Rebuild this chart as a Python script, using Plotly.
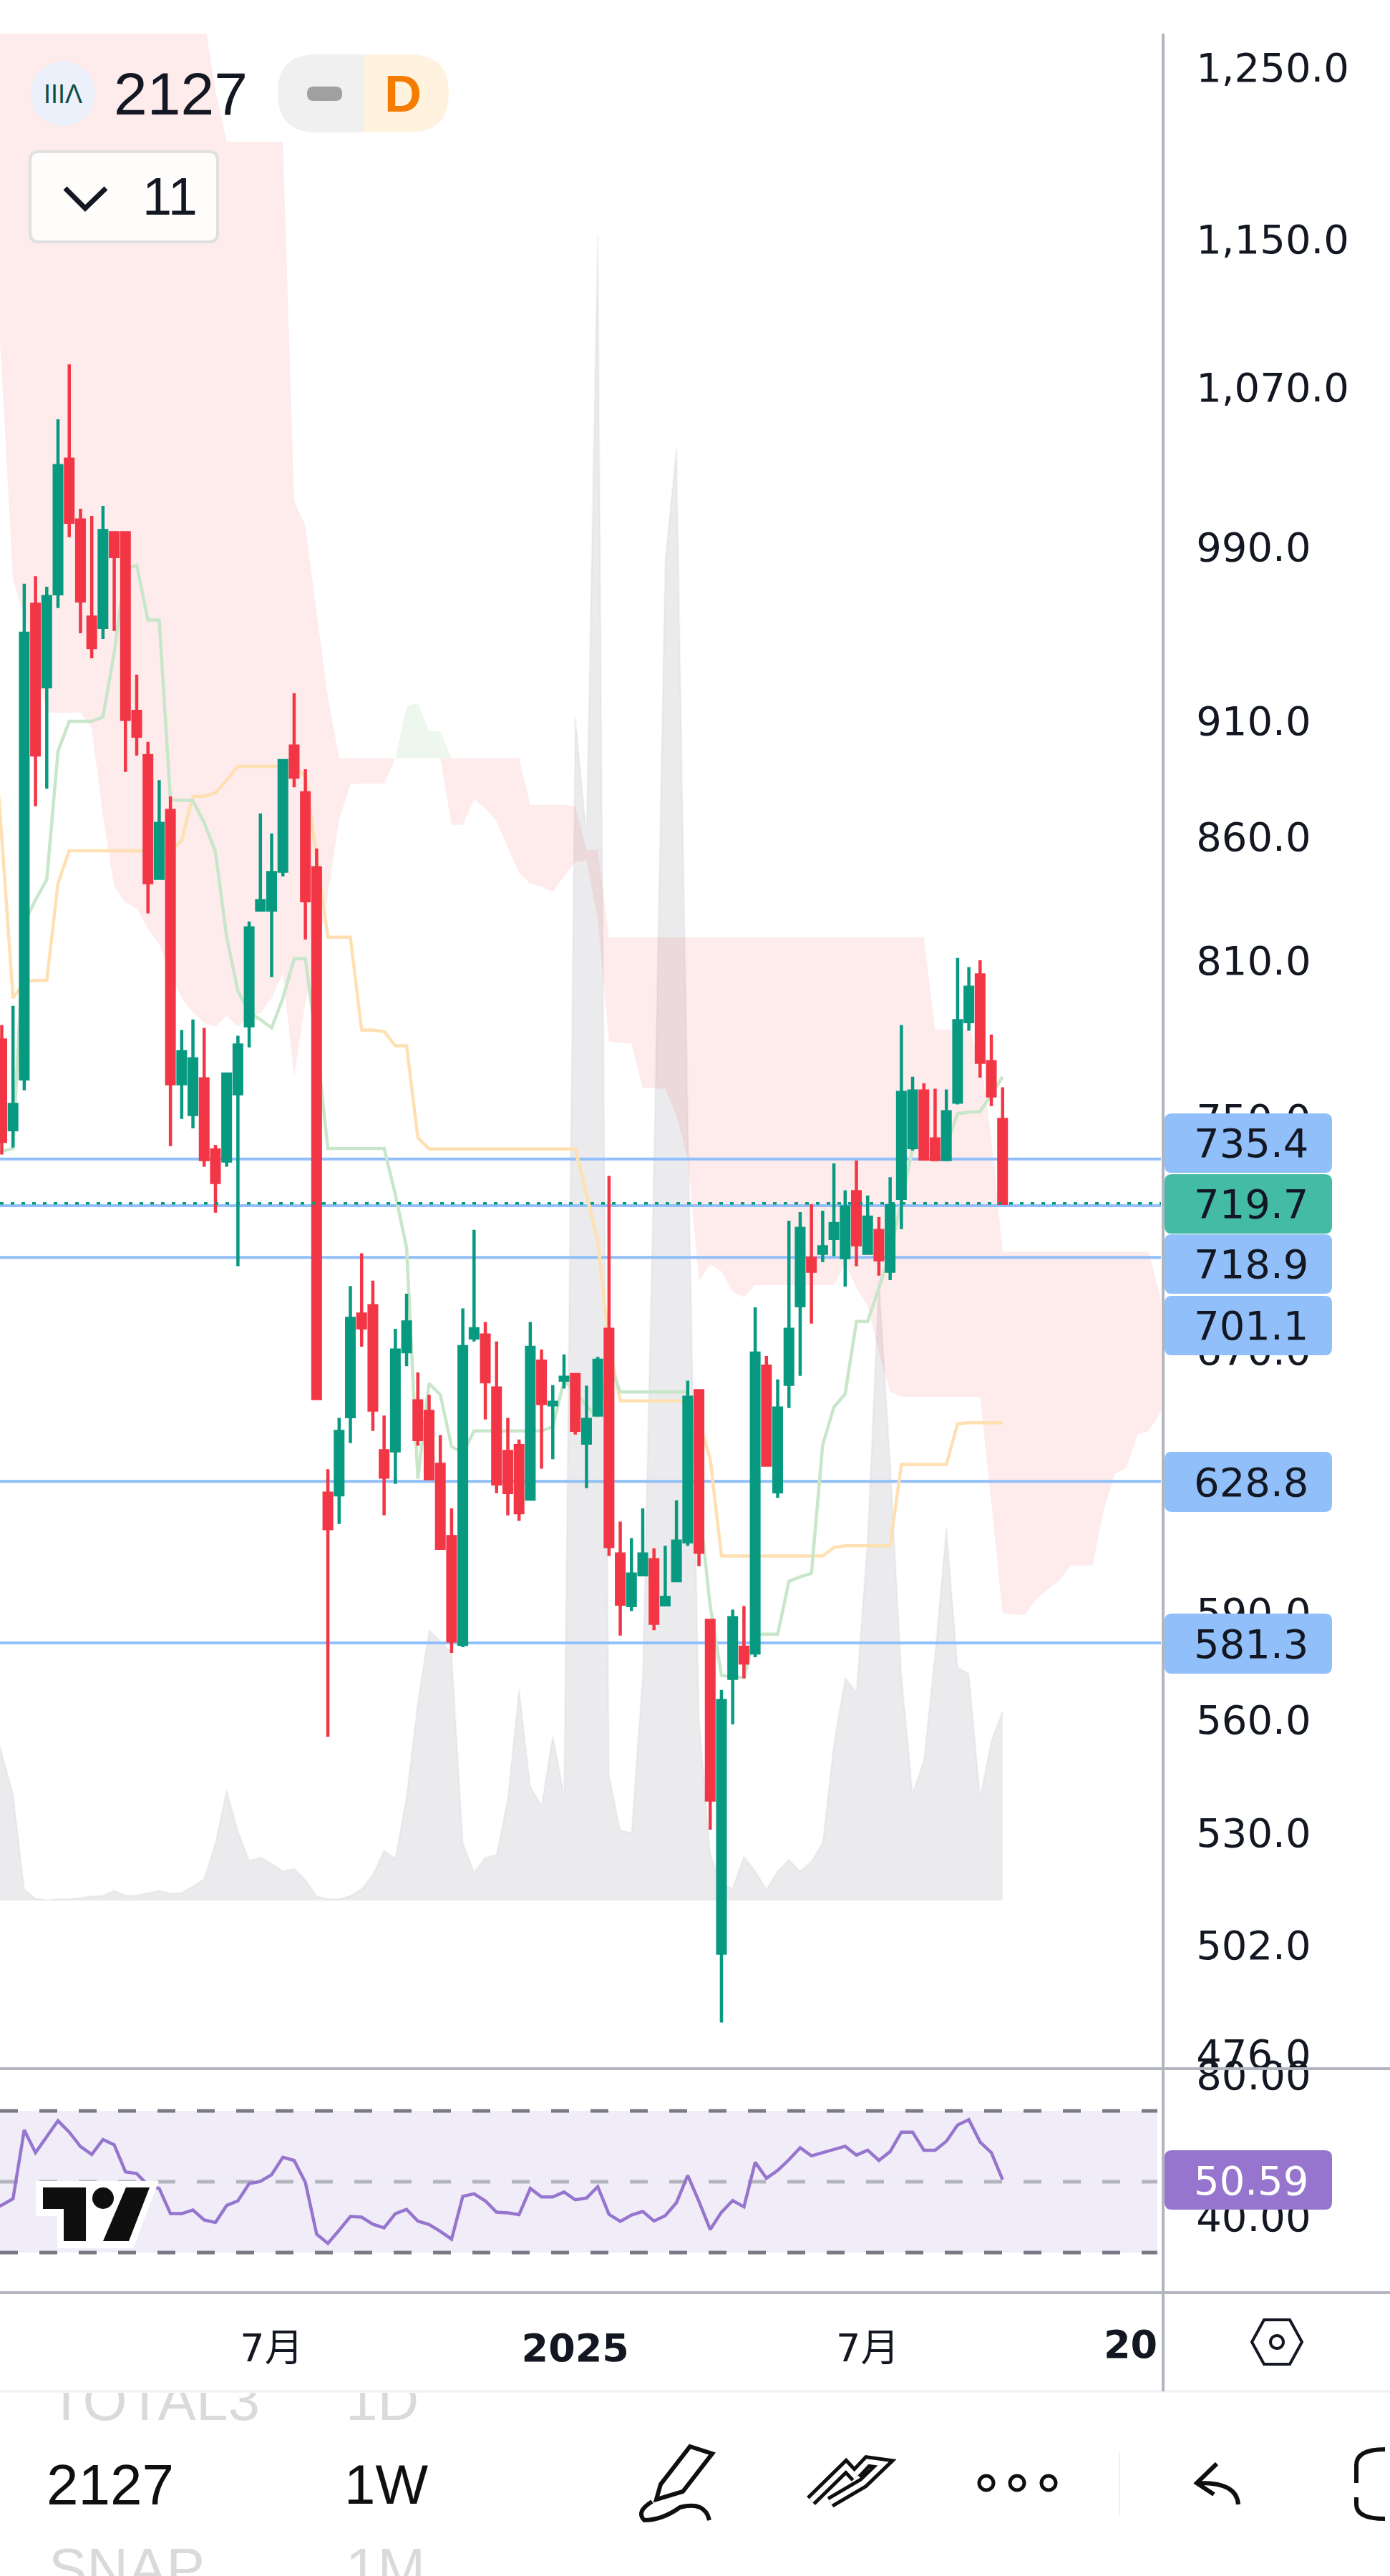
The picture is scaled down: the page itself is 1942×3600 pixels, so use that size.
import pandas as pd
import plotly.graph_objects as go

W = 1942
H = 3600

# weekly candles (first date only feeds the lines running off the left edge)
dates = pd.date_range("2024-01-08", periods=106, freq="7D")
opens = [
    779.2, 746.0, 764.6, 962.9, 925.1, 967.9, 1033.3, 1003.2, 956.9, 952.2,
    997.0, 997.0, 914.1, 894.7, 842.9, 871.1, 762.8, 751.5, 764.6, 738.7,
    734.7, 759.1, 784.6, 830.0, 830.0, 845.8, 898.8, 878.6, 847.2, 625.2,
    624.7, 648.9, 682.0, 684.8, 638.2, 638.2, 669.7, 653.9, 650.5, 634.0,
    612.1, 580.9, 674.2, 675.1, 658.0, 638.0, 639.8, 623.4, 666.6, 652.6,
    660.5, 662.3, 640.6, 649.4, 677.0, 607.0, 592.0, 600.9, 605.3, 592.2,
    599.2, 610.6, 657.1, 587.7, 500.0, 571.4, 580.1, 578.5, 665.0, 625.6,
    659.2, 684.8, 700.8, 702.5, 707.6, 701.0, 723.8, 702.5, 710.3, 696.4,
    721.5, 739.5, 760.1, 742.6, 735.2, 756.0, 786.2, 804.2, 771.0, 749.7,
]
highs = [
    784.9, 792.2, 972.6, 976.2, 971.2, 1053.5, 1082.0, 1008.7, 1005.2, 1010.1,
    997.0, 997.6, 930.6, 900.7, 884.1, 877.1, 783.0, 787.0, 783.8, 740.5,
    766.4, 780.8, 825.4, 869.9, 861.5, 892.5, 922.2, 888.8, 855.2, 632.5,
    648.5, 691.4, 702.5, 693.2, 649.2, 677.2, 688.8, 663.0, 655.8, 643.1,
    620.6, 683.9, 710.5, 679.4, 673.0, 648.5, 641.7, 679.4, 670.4, 658.9,
    668.8, 662.3, 658.7, 668.0, 729.4, 616.6, 611.7, 620.6, 608.7, 609.4,
    623.0, 660.3, 657.6, 587.7, 568.2, 590.8, 591.8, 684.3, 668.3, 660.7,
    713.7, 716.7, 719.5, 717.2, 733.9, 724.3, 734.9, 722.5, 714.9, 728.9,
    784.9, 765.4, 763.0, 761.0, 760.7, 810.9, 807.3, 810.0, 781.3, 761.5,
]
lows = [
    737.0, 739.5, 760.4, 872.9, 880.4, 961.2, 994.8, 949.5, 938.0, 946.8,
    950.5, 887.6, 894.7, 828.6, 842.3, 740.0, 749.9, 746.5, 732.7, 716.5,
    732.7, 698.1, 776.4, 830.0, 803.4, 843.7, 881.0, 818.2, 654.6, 555.4,
    615.9, 640.6, 671.3, 644.4, 618.5, 628.0, 665.0, 639.8, 629.6, 608.7,
    578.5, 580.1, 673.0, 648.0, 625.2, 618.5, 616.8, 623.0, 632.7, 635.6,
    657.8, 643.3, 626.7, 649.2, 606.4, 583.4, 590.4, 600.9, 584.9, 592.0,
    599.2, 609.4, 603.4, 530.9, 483.4, 558.8, 571.4, 577.3, 633.3, 623.8,
    651.6, 661.9, 678.9, 699.5, 701.5, 691.2, 698.1, 702.5, 694.9, 693.4,
    710.8, 738.5, 735.2, 734.7, 735.0, 755.2, 782.7, 765.1, 754.6, 719.2,
]
closes = [
    741.8, 755.2, 949.5, 895.0, 966.5, 1030.0, 1002.1, 964.5, 942.9, 998.0,
    985.5, 910.6, 903.2, 841.1, 865.7, 762.8, 774.8, 772.1, 735.2, 727.1,
    766.4, 777.3, 822.8, 833.8, 845.2, 892.5, 885.4, 833.8, 654.6, 614.5,
    644.2, 680.6, 677.5, 651.0, 630.1, 670.2, 679.4, 641.7, 629.6, 608.7,
    581.9, 671.3, 677.2, 660.0, 628.0, 625.4, 619.3, 671.1, 653.0, 653.4,
    661.4, 644.6, 648.0, 666.9, 609.2, 592.4, 601.1, 607.0, 586.9, 594.3,
    610.8, 655.0, 607.5, 538.6, 565.3, 588.5, 575.7, 669.2, 633.8, 651.6,
    677.0, 711.0, 696.4, 704.7, 712.7, 718.5, 705.4, 714.9, 700.3, 719.0,
    759.6, 760.1, 735.4, 735.2, 752.5, 786.5, 799.4, 770.8, 758.3, 719.7,
]

# volume, arbitrary units (100 = tallest spike)
volume = [
    11.4,
    8.85, 6.44, 0.69, 0.13, 0.04, 0.09, 0.09, 0.17, 0.26, 0.30,
    0.60, 0.30, 0.30, 0.47, 0.60, 0.43, 0.47, 0.86, 1.29, 3.48,
    6.62, 4.17, 2.41, 2.58, 2.23, 1.76, 1.93, 1.25, 0.26, 0.09,
    0.09, 0.30, 0.69, 1.55, 3.01, 2.53, 6.31, 11.9, 16.24, 15.59,
    14.91, 3.48, 1.68, 2.58, 2.75, 6.14, 12.71, 6.87, 5.71, 9.92,
    6.36, 71.05, 63.96, 100.0, 7.52, 4.21, 4.08, 13.57, 44.5, 80.41,
    87.2, 47.08, 11.0, 2.84, 0.9, 0.77, 2.66, 1.76, 0.69, 1.76,
    2.45, 1.76, 2.36, 3.48, 9.41, 13.36, 12.54, 21.74, 37.2, 26.33,
    13.57, 6.44, 8.42, 14.86, 22.42, 14.0, 13.62, 6.23, 9.58, 11.38,
]

# ichimoku
conversion = [
    738.0,
    738.2, 739.2, 824.8, 834.1, 842.3, 896.6, 909.7, 909.7, 909.7, 911.6,
    940.6, 979.6, 981.4, 955.6, 955.6, 875.6, 875.6, 875.3, 866.0, 853.9,
    819.1, 798.0, 789.7, 787.0, 783.8, 795.2, 810.6, 810.6, 777.5, 739.2,
    739.2, 739.2, 739.2, 739.2, 739.2, 722.8, 704.4, 629.6, 659.4, 655.8,
    639.5, 637.5, 644.4, 644.4, 644.4, 644.4, 644.4, 644.4, 644.4, 645.7,
    660.3, 656.9, 652.3, 648.7, 666.0, 656.7, 656.7, 656.7, 656.7, 656.7,
    656.7, 656.7, 622.3, 591.8, 572.2, 571.8, 571.6, 583.8, 583.8, 583.8,
    599.0, 600.3, 601.3, 640.0, 651.9, 656.1, 679.6, 679.6, 690.7, 703.0,
    720.3, 739.2, 740.0, 738.0, 740.5, 751.8, 752.3, 752.6, 758.8, 765.4,
]
base_line = [
    925.0,
    859.9, 795.2, 801.5, 802.1, 802.1, 840.8, 854.2, 854.2, 854.2, 854.2,
    854.2, 854.2, 854.2, 854.2, 854.2, 854.2, 858.5, 877.1, 877.1, 878.6,
    884.1, 890.0, 890.0, 890.0, 890.0, 890.0, 890.0, 885.6, 851.0, 819.1,
    819.1, 819.1, 783.0, 783.0, 782.4, 777.0, 777.0, 743.1, 739.0, 739.0,
    739.0, 739.0, 739.0, 739.0, 739.0, 739.0, 739.0, 739.0, 739.0, 739.0,
    739.0, 739.0, 722.8, 706.6, 671.8, 653.9, 653.9, 653.9, 653.9, 653.9,
    653.9, 653.9, 647.8, 635.6, 606.4, 606.4, 606.4, 606.4, 606.4, 606.4,
    606.4, 606.4, 606.4, 606.4, 608.9, 609.4, 609.4, 609.4, 609.4, 609.4,
    634.0, 634.0, 634.0, 634.0, 634.0, 646.6, 647.0, 647.0, 647.0, 647.0,
]
cloud_top = [
    1280.0,
    1280.0, 1280.0, 1280.0, 1280.0, 1280.0, 1280.0, 1280.0, 1280.0, 1280.0, 1280.0,
    1280.0, 1280.0, 1280.0, 1280.0, 1280.0, 1280.0, 1280.0, 1280.0, 1280.0, 1236.0,
    1205.6, 1205.6, 1205.6, 1205.6, 1205.6, 1205.6, 1012.5, 1000.4, 958.8, 920.6,
    893.5, 893.5, 893.5, 893.5, 893.5, 893.5, 893.5, 893.5, 893.5, 893.5,
    893.5, 893.5, 893.5, 893.5, 893.5, 893.5, 893.5, 873.5, 873.5, 873.5,
    873.5, 872.9, 854.6, 854.6, 819.1, 819.1, 819.1, 819.1, 819.1, 819.1,
    819.1, 819.1, 819.1, 819.1, 819.1, 819.1, 819.1, 819.1, 819.1, 819.1,
    819.1, 819.1, 819.1, 819.1, 819.1, 819.1, 819.1, 819.1, 819.1, 819.1,
    819.1, 819.1, 819.1, 783.2, 783.2, 783.2, 783.2, 772.1, 743.1, 703.0,
    703.0, 703.0, 703.0, 703.0, 703.0, 703.0, 703.0, 703.0, 703.0, 703.0,
    703.0, 703.0, 703.0, 688.3, 662.0,
]
cloud_bottom = [
    1180.0,
    1077.8, 974.6, 957.2, 934.8, 913.5, 913.5, 913.5, 913.5, 906.6, 869.0,
    839.4, 833.0, 830.7, 822.5, 816.3, 805.0, 795.2, 789.7, 785.7, 784.3,
    788.4, 784.3, 788.4, 789.5, 795.2, 805.0, 765.4, 793.8, 810.6, 836.5,
    867.2, 882.2, 882.5, 882.5, 882.5, 893.5, 893.5, 893.5, 893.5, 893.5,
    865.1, 865.1, 875.9, 872.0, 866.6, 855.5, 845.2, 840.8, 839.4, 837.3,
    843.7, 849.6, 850.4, 826.3, 778.6, 778.3, 777.8, 761.2, 761.2, 761.0,
    751.0, 735.4, 693.2, 698.6, 696.4, 689.5, 687.6, 691.7, 691.7, 691.7,
    691.7, 691.7, 691.7, 691.7, 691.7, 699.3, 690.7, 684.8, 669.5, 656.9,
    655.1, 655.1, 655.1, 655.1, 655.1, 655.1, 655.1, 655.1, 622.3, 589.7,
    589.3, 589.3, 593.8, 596.6, 599.0, 603.6, 603.6, 603.6, 620.2, 631.1,
    632.9, 643.3, 644.4, 650.0, 655.0,
]
# short green twist of the cloud
twist_top = [893.5, 916.4, 917.9, 905.3, 905.3, 893.5]
twist_base = [893.5, 893.5, 893.5, 893.5, 893.5, 893.5]

# rsi
rsi = [
    42.0,
    43.4, 45.2, 64.6, 58.2, 62.9, 67.2, 64.0, 59.9, 57.7, 61.9,
    60.4, 52.8, 52.3, 49.0, 48.1, 41.0, 41.0, 42.0, 39.2, 38.5,
    43.3, 44.6, 49.5, 50.1, 52.0, 56.9, 56.0, 49.8, 35.2, 32.6,
    36.3, 40.2, 40.0, 38.0, 37.0, 41.0, 42.2, 38.9, 37.9, 36.0,
    33.8, 45.9, 46.6, 44.6, 41.4, 41.2, 40.7, 48.1, 45.7, 45.7,
    47.1, 44.9, 45.4, 48.6, 40.8, 38.8, 40.6, 41.6, 38.9, 40.4,
    44.1, 51.8, 44.4, 36.5, 41.4, 44.7, 42.9, 55.5, 51.0, 53.2,
    56.2, 59.6, 57.3, 58.2, 59.2, 60.0, 57.5, 58.9, 56.0, 58.5,
    64.0, 64.0, 58.9, 58.9, 61.4, 66.0, 67.5, 61.2, 58.2, 50.59,
]

# levels and axis labels
levels = [735.4, 718.9, 701.1, 628.8, 581.3]
last_price = 719.7
price_ticks = [1250, 1150, 1070, 990, 910, 860, 810, 750, 670, 590, 560, 530, 502, 476]
price_labels = ["1,250.0", "1,150.0", "1,070.0", "990.0", "910.0", "860.0", "810.0",
                "750.0", "670.0", "590.0", "560.0", "530.0", "502.0", "476.0"]
rsi_ticks = [80, 40]
rsi_labels = ["80.00", "40.00"]
rsi_bands = [70, 50, 30]
time_ticks = ["2024-07-01", "2025-01-06", "2025-07-07"]
time_labels = ["7月", "<b>2025</b>", "7月"]

X_RANGE = ["2024-01-13 21:36", "2026-01-05 14:00"]
BAND_END = "2026-01-03 08:00"
PRICE_RANGE = [2.67457, 3.10402]
GREEN = "#089981"
RED = "#F23645"
BLUE = "#90BFF9"
PURPLE = "#9575CD"
INK = "#131722"
AXIS_GREY = "#B2B5BE"
TICK_FONT = "DejaVu Sans"


def fx(x):
    return x / W


def fy(y):
    return 1 - y / H


def pt(x, y):
    return f"{fx(x):.5f},{fy(y):.5f}"


def path(points, closed=False):
    d = "M" + " L".join(pt(x, y) for x, y in points)
    return d + " Z" if closed else d


def round_rect(x0, y0, x1, y1, r):
    return (
        f"M{pt(x0 + r, y0)} L{pt(x1 - r, y0)} Q{pt(x1, y0)} {pt(x1, y0 + r)} "
        f"L{pt(x1, y1 - r)} Q{pt(x1, y1)} {pt(x1 - r, y1)} "
        f"L{pt(x0 + r, y1)} Q{pt(x0, y1)} {pt(x0, y1 - r)} "
        f"L{pt(x0, y0 + r)} Q{pt(x0, y0)} {pt(x0 + r, y0)} Z"
    )


shapes = []
notes = []


def add_path(d, fill=None, line=None, width=0):
    shapes.append(dict(type="path", xref="paper", yref="paper", path=d,
                       fillcolor=fill or "rgba(0,0,0,0)",
                       line=dict(color=line or "rgba(0,0,0,0)", width=width)))


def add_oval(x0, y0, x1, y1, fill=None, line=None, width=0):
    shapes.append(dict(type="circle", xref="paper", yref="paper",
                       x0=fx(x0), x1=fx(x1), y0=fy(y1), y1=fy(y0),
                       fillcolor=fill or "rgba(0,0,0,0)",
                       line=dict(color=line or "rgba(0,0,0,0)", width=width)))


def add_text(x, y, text, size, color=INK, anchor="left", family="Liberation Sans"):
    notes.append(dict(xref="paper", yref="paper", x=fx(x), y=fy(y), text=text,
                      showarrow=False, xanchor=anchor, yanchor="middle",
                      font=dict(size=size, color=color, family=family),
                      borderpad=0))


fig = go.Figure()

# volume sits on the base axis so the price axis draws over it
fig.add_trace(go.Scatter(x=dates[:91], y=volume, yaxis="y", mode="lines", fill="tozeroy",
                         fillcolor="rgba(120,123,134,0.15)",
                         line=dict(color="rgba(120,123,134,0.05)", width=3)))

# cloud
fig.add_trace(go.Scatter(x=dates, y=cloud_top, yaxis="y2", mode="lines", line=dict(width=0)))
fig.add_trace(go.Scatter(x=dates, y=cloud_bottom, yaxis="y2", mode="lines", line=dict(width=0),
                         fill="tonexty", fillcolor="rgba(242,54,69,0.1)"))
fig.add_trace(go.Scatter(x=dates[36:42], y=twist_top, yaxis="y2", mode="lines", line=dict(width=0)))
fig.add_trace(go.Scatter(x=dates[36:42], y=twist_base, yaxis="y2", mode="lines", line=dict(width=0),
                         fill="tonexty", fillcolor="rgba(76,175,80,0.1)"))

# horizontal levels
for lvl in levels:
    fig.add_trace(go.Scatter(x=X_RANGE, y=[lvl, lvl], yaxis="y2", mode="lines",
                             line=dict(color=BLUE, width=4)))

# ichimoku lines
fig.add_trace(go.Scatter(x=dates[:91], y=base_line, yaxis="y2", mode="lines",
                         line=dict(color="#FFE0B2", width=4.5)))
fig.add_trace(go.Scatter(x=dates[:91], y=conversion, yaxis="y2", mode="lines",
                         line=dict(color="#C8E6C9", width=4.5)))

# candles get their own overlay axis, scatter lines would cover them otherwise
fig.add_trace(go.Candlestick(
    x=dates[1:91], open=opens, high=highs, low=lows, close=closes, yaxis="y5",
    whiskerwidth=0,
    increasing=dict(line=dict(color=GREEN, width=4.5), fillcolor=GREEN),
    decreasing=dict(line=dict(color=RED, width=4.5), fillcolor=RED),
))

fig.add_trace(go.Scatter(x=X_RANGE, y=[last_price, last_price], yaxis="y5", mode="lines",
                         line=dict(color=GREEN, width=3.5, dash="5px,10px")))

# rsi pane
fig.add_trace(go.Scatter(x=[X_RANGE[0], BAND_END], y=[rsi_bands[0]] * 2, yaxis="y3", mode="lines",
                         line=dict(color="#787B86", width=5, dash="25px,30px")))
fig.add_trace(go.Scatter(x=[X_RANGE[0], BAND_END], y=[rsi_bands[2]] * 2, yaxis="y3", mode="lines",
                         line=dict(color="#787B86", width=5, dash="25px,30px"),
                         fill="tonexty", fillcolor="rgba(126,87,194,0.11)"))
fig.add_trace(go.Scatter(x=[X_RANGE[0], BAND_END], y=[rsi_bands[1]] * 2, yaxis="y3", mode="lines",
                         line=dict(color=AXIS_GREY, width=5, dash="25px,30px")))
fig.add_trace(go.Scatter(x=dates[:91], y=rsi, yaxis="y3", mode="lines",
                         line=dict(color=PURPLE, width=4.5)))

# toolbar rows that get cut by the panel edge
fig.add_trace(go.Scatter(x=[68, 483, 68, 483], y=[3362, 3362, 3597, 3597], xaxis="x2", yaxis="y4",
                         mode="text", text=["TOTAL3", "1D", "SNAP", "1M"], textposition="middle right",
                         textfont=dict(size=80, color="#DADADA", family="Liberation Sans")))

# pane separators
for y in (2891, 3204):
    add_path(path([(0, y), (W, y)]), line=AXIS_GREY, width=4)
add_path(path([(0, 3342), (W, 3342)]), line="#EFF0F2", width=3)
add_path(path([(1625, 47), (1625, 3342)]), line=AXIS_GREY, width=4)

# price pills
pills = [(1556, 1639, BLUE, "735.4"), (1725, 1808, BLUE, "718.9"), (1811, 1894, BLUE, "701.1"),
         (2029, 2113, BLUE, "628.8"), (2255, 2339, BLUE, "581.3"), (1641, 1724, "#43BBA5", "719.7")]
for y0, y1, colour, txt in pills:
    add_path(round_rect(1627, y0, 1861, y1, 10), fill=colour)
    add_text(1667, (y0 + y1) / 2, txt, 56, family=TICK_FONT)
add_path(round_rect(1627, 3005, 1861, 3088, 10), fill=PURPLE)
add_text(1667, 3047, "50.59", 56, color="white", family=TICK_FONT)

# symbol header
add_oval(43, 86, 133, 176, fill="#EBF0FA")
add_text(88, 131, "IIIΛ", 36, color="#0F4F47", anchor="center")
add_text(158, 131, "2127", 84)
add_path(f"M{pt(508, 76)} L{pt(442, 76)} Q{pt(388, 76)} {pt(388, 130)} Q{pt(388, 185)} {pt(442, 185)} L{pt(508, 185)} Z",
         fill="#F0F0F0")
add_path(f"M{pt(508, 76)} L{pt(573, 76)} Q{pt(627, 76)} {pt(627, 130)} Q{pt(627, 185)} {pt(573, 185)} L{pt(508, 185)} Z",
         fill="#FFF3E0")
add_path(round_rect(429, 121, 478, 141, 9), fill="#A0A0A0")
add_text(563, 131, "<b>D</b>", 72, color="#F57C00", anchor="center")
add_path(round_rect(42, 212, 304, 338, 12), fill="rgba(255,255,255,0.85)", line="#E0E0E0", width=4)
add_path(path([(91, 263), (119, 291), (148, 263)]), line=INK, width=7)
add_text(198, 275, "11", 74)

# time axis clipped label and settings icon
add_text(1618, 3276, "<b>20</b>", 54, anchor="right", family=TICK_FONT)
add_path(path([(1749, 3273), (1766, 3242), (1802, 3242), (1819, 3273), (1802, 3304), (1766, 3304)], True),
         line=INK, width=4)
add_oval(1775, 3264, 1793, 3282, line=INK, width=4)

# tradingview mark
add_path(path([(50, 3048), (222, 3048), (186, 3142), (80, 3142), (80, 3097), (50, 3097)], True), fill="white")
add_path(path([(60, 3057), (120, 3057), (120, 3132), (89, 3132), (89, 3087), (60, 3087)], True), fill="#0F0F0F")
add_oval(129, 3057, 159, 3087, fill="#0F0F0F")
add_path(path([(176, 3057), (209, 3057), (180, 3132), (144, 3132)], True), fill="#0F0F0F")

# bottom toolbar
add_text(64, 3472, "2127", 80, color="#0F0F0F")
add_text(480, 3472, "1W", 78, color="#0F0F0F")
add_path(path([(964, 3419), (995, 3429), (954, 3482), (917, 3493), (923, 3472)], True), line="#0F0F0F", width=6)
add_path(f"M{pt(911, 3496)} Q{pt(888, 3510)} {pt(900, 3522)} Q{pt(925, 3522)} {pt(950, 3504)} "
         f"Q{pt(985, 3495)} {pt(991, 3522)}", line="#0F0F0F", width=6)
for colour, width in (("#0F0F0F", 17), ("white", 7)):
    add_path(path([(1133, 3495), (1182, 3447), (1196, 3462)]), line=colour, width=width)
    add_path(path([(1160, 3497), (1206, 3470), (1234, 3443), (1212, 3440), (1196, 3457)]), line=colour, width=width)
for cx in (1378, 1421, 1465):
    add_oval(cx - 10, 3460, cx + 10, 3480, line="#0F0F0F", width=5)
add_path(path([(1564, 3427), (1564, 3515)]), line="#F0F0F0", width=2)
add_path(f"M{pt(1700, 3443)} L{pt(1672, 3470)} L{pt(1696, 3486)} M{pt(1672, 3470)} "
         f"Q{pt(1728, 3468)} {pt(1730, 3500)}", line="#0F0F0F", width=6)
add_path(f"M{pt(1935, 3423)} Q{pt(1895, 3423)} {pt(1895, 3445)} L{pt(1895, 3470)} "
         f"M{pt(1895, 3490)} L{pt(1895, 3500)} Q{pt(1895, 3520)} {pt(1935, 3520)}", line="#0F0F0F", width=6)

hidden = dict(visible=False, showgrid=False, zeroline=False, automargin=False)

fig.update_layout(
    width=W,
    height=H,
    margin=dict(l=0, r=0, t=0, b=0),
    paper_bgcolor="white",
    plot_bgcolor="white",
    showlegend=False,
    hovermode=False,
    boxgap=0.33,
    boxgroupgap=0,
    shapes=shapes,
    annotations=notes,
    xaxis=dict(
        domain=[0, 1622 / W], range=X_RANGE, type="date", anchor="y3", automargin=False,
        showgrid=False, zeroline=False, showline=False, rangeslider=dict(visible=False),
        tickmode="array", tickvals=time_ticks, ticktext=time_labels, tickangle=0,
        ticks="outside", ticklen=30, tickcolor="rgba(0,0,0,0)",
        tickfont=dict(size=54, color=INK, family=TICK_FONT + ", Noto Sans CJK JP"),
    ),
    # base axis, volume, no labels
    yaxis=dict(domain=[fy(2891), fy(47)], range=[-10.09, 112.07], **hidden),
    yaxis2=dict(
        overlaying="y", side="right", type="log", anchor="x", automargin=False,
        range=PRICE_RANGE,
        showgrid=False, zeroline=False, showline=False,
        tickmode="array", tickvals=price_ticks, ticktext=price_labels,
        ticks="outside", ticklen=37, tickcolor="rgba(0,0,0,0)",
        tickfont=dict(size=56, color=INK, family=TICK_FONT),
    ),
    yaxis3=dict(
        domain=[fy(3204), fy(2891)], range=[18.7, 81.9], side="right", anchor="x", automargin=False,
        showgrid=False, zeroline=False, showline=False,
        tickmode="array", tickvals=rsi_ticks, ticktext=rsi_labels,
        ticks="outside", ticklen=37, tickcolor="rgba(0,0,0,0)",
        tickfont=dict(size=56, color=INK, family=TICK_FONT),
    ),
    xaxis2=dict(domain=[0, 1], range=[0, W], anchor="y4", **hidden),
    yaxis4=dict(domain=[0, fy(3344)], range=[H, 3344], anchor="x2", **hidden),
    yaxis5=dict(overlaying="y", type="log", range=PRICE_RANGE, anchor="x", **hidden),
)

fig.write_html("out.html", post_script="document.body.style.margin='0'", config={"displayModeBar": False})
